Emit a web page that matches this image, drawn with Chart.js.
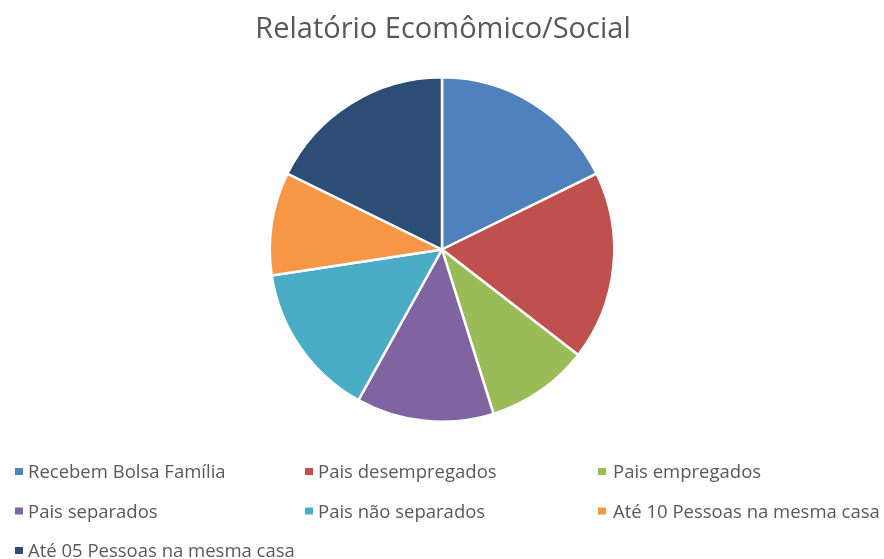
<!DOCTYPE html>
<html>
<head>
<meta charset="utf-8">
<script src="https://cdn.jsdelivr.net/npm/chart.js@4/dist/chart.umd.min.js"></script>
<style>
  html, body { margin: 0; padding: 0; background: #ffffff; }
  #wrap { width: 884px; height: 559px; position: relative; }
</style>
</head>
<body>
<div id="wrap"><canvas id="c" width="884" height="559"></canvas></div>
<script>
const chartTitle = 'Relatório Ecomômico/Social';
const categories = [
  'Recebem Bolsa Família',
  'Pais desempregados',
  'Pais empregados',
  'Pais separados',
  'Pais não separados',
  'Até 10 Pessoas na mesma casa',
  'Até 05 Pessoas na mesma casa'
];
const values = [11, 11, 6, 8, 9, 6, 11];
const colors = ['#4F81BD', '#C0504D', '#9BBB59', '#8064A2', '#4BACC6', '#F79646', '#2C4D75'];

const textFont = '"Open Sans", "Noto Sans", sans-serif';
const textColor = '#595959';

// Title and a three-column legend drawn on the canvas
const titleAndLegend = {
  id: 'titleAndLegend',
  afterDraw(chart) {
    const ctx = chart.ctx;
    ctx.save();
    ctx.fillStyle = textColor;
    ctx.textAlign = 'center';
    ctx.textBaseline = 'alphabetic';
    ctx.font = '29px ' + textFont;
    ctx.fillText(chartTitle, 443, 38);

    const boxX = [15, 305, 598];
    const textX = [28, 318, 613];
    const baseY = [478, 517.5, 557];
    ctx.font = '18.5px ' + textFont;
    ctx.textAlign = 'left';
    chart.data.labels.forEach((label, i) => {
      const col = i % 3;
      const y = baseY[Math.floor(i / 3)];
      ctx.fillStyle = chart.data.datasets[0].backgroundColor[i];
      ctx.fillRect(boxX[col], y - 10, 8, 7);
      ctx.fillStyle = textColor;
      ctx.fillText(label, textX[col], y);
    });
    ctx.restore();
  }
};

new Chart(document.getElementById('c'), {
  type: 'pie',
  data: {
    labels: categories,
    datasets: [{
      data: values,
      backgroundColor: colors,
      borderColor: '#ffffff',
      borderWidth: 2.5
    }]
  },
  options: {
    responsive: false,
    animation: false,
    layout: { padding: { top: 76, bottom: 136, left: 0, right: 0 } },
    plugins: {
      legend: { display: false },
      title: { display: false },
      tooltip: { enabled: false }
    }
  },
  plugins: [titleAndLegend]
});
</script>
</body>
</html>
